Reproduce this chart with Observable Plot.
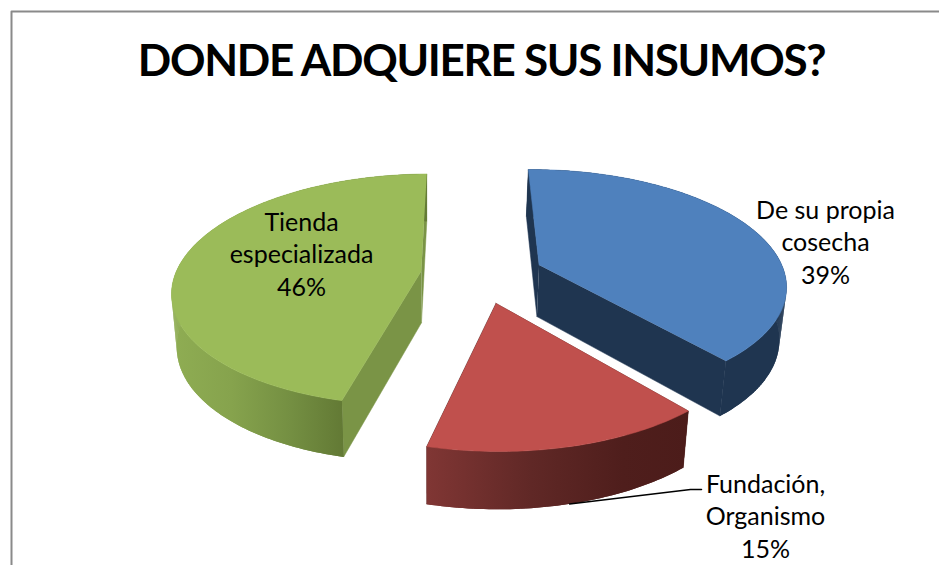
<!DOCTYPE html>
<html><head><meta charset="utf-8">
<script src="https://cdn.jsdelivr.net/npm/d3@7"></script>
<script src="https://cdn.jsdelivr.net/npm/@observablehq/plot@0.6"></script>
<style>html,body{margin:0;padding:0;background:#fff}svg{display:block}.ttl text{letter-spacing:-1.3px}</style>
</head><body><div id="chart"></div>
<script>
const categories = ["De su propia cosecha", "Fundación, Organismo", "Tienda especializada"];
const shares = [39, 15, 46];
const chartTitle = "DONDE ADQUIERE SUS INSUMOS?";

const topColors = ["#4f81bd", "#c0504d", "#9bbb59"];
const wallColors = ["#1f3550", "#4f1e1c", "#7a9446"];
const rimStops = [
  [[0, "#1f3550"], [1, "#1f3550"]],
  [[0, "#803634"], [0.4, "#602826"], [0.75, "#4f1e1c"], [1, "#4c1c1a"]],
  [[0, "#8fad53"], [0.35, "#86a34d"], [0.7, "#748f42"], [1, "#637a35"]]
];

const labelLines = [["De su propia", "cosecha", "39%"], ["Fundación,", "Organismo", "15%"], ["Tienda", "especializada", "46%"]];
const labelAnchor = [[825, 210], [765, 484], [301, 222]];
const lineGap = 32.5;

const view = {cx: 481.5, cy: 274, R: 246, Rt: 113.7, d: 0.1614, e: 0.25, depth: 52, bottomScale: 0.98, bottomCx: 430, spin: -0.8 * Math.PI / 180};
function project(X, V, low) {
  const p = 1 / (1 - view.d * V);
  let x = view.cx + view.R * X * p, y = view.cy + view.Rt * V * p;
  if (low) { x = view.bottomCx + (x - view.bottomCx) * view.bottomScale; y += view.depth * (1 + 0.09 * V); }
  return {x, y};
}
const pie = d3.pie().sort(null).value(d => d)(shares);
const rad = a => [Math.sin(a), -Math.cos(a)];
const walls = [], tops = [], rims = [], gradients = [];
let pid = 0;
const tag = (points, color, list) => { const id = pid++; points.forEach(p => list.push({...p, id, color})); };

pie.forEach((s, i) => {
  const mid = (s.startAngle + s.endAngle) / 2, [mx, mv] = rad(mid);
  const off = [mx * view.e, mv * view.e];
  const pt = (a, low, r = 1) => { const [u, v] = rad(a + view.spin); return project(off[0] + u * r, off[1] + v * r, low); };
  const n = Math.max(2, Math.round((s.endAngle - s.startAngle) * 180 / Math.PI));
  const angles = d3.range(n + 1).map(k => s.startAngle + (s.endAngle - s.startAngle) * k / n);
  const apex = pt(0, false, 0), apexLow = pt(0, true, 0);
  tag([apex, pt(s.startAngle, false), pt(s.startAngle, true), apexLow], wallColors[i], walls);
  tag([apex, pt(s.endAngle, false), pt(s.endAngle, true), apexLow], wallColors[i], walls);
  const frontAngles = angles.filter(a => -Math.cos(a) > 0);
  const [x0, x1] = d3.extent(frontAngles, a => pt(a, false).x);
  gradients.push({id: `rim${i}`, x0, x1, stops: rimStops[i]});
  const sweep = [];
  d3.pairs(angles).forEach(([a, b], k) => {
    [pt(a, false), pt(b, false), pt(b, true), pt(a, true)].forEach(q => sweep.push({...q, k}));
  });
  rims.push({
    fill: `url(#rim${i})`,
    outline: [...angles.map(a => pt(a, false)), ...angles.slice().reverse().map(a => pt(a, true))],
    sweep
  });
  tag([apex, ...angles.map(a => pt(a, false))], topColors[i], tops);
});

const labels = labelLines.flatMap((lines, i) => lines.map((t, k) => ({t, x: labelAnchor[i][0], y: labelAnchor[i][1] + k * lineGap})));
const leaderStart = (() => {
  const s = pie[1], m = (s.startAngle + s.endAngle) / 2, [mx, mv] = rad(m);
  const [u, v] = rad(s.startAngle + (s.endAngle - s.startAngle) * 0.49 + view.spin);
  return project(mx * view.e + u, mv * view.e + v, true);
})();
const leader = [leaderStart, {x: 690, y: 489}, {x: 701, y: 489}];

const defs = () => {
  const d = d3.create("svg:defs");
  gradients.forEach(g => {
    const lg = d.append("linearGradient").attr("id", g.id).attr("gradientUnits", "userSpaceOnUse")
      .attr("x1", g.x0).attr("x2", g.x1).attr("y1", 0).attr("y2", 0);
    g.stops.forEach(([o, c]) => lg.append("stop").attr("offset", o).attr("stop-color", c));
  });
  return d.node();
};

const chart = Plot.plot({
  width: 939, height: 565, margin: 0,
  style: {background: "#fff"},
  x: {domain: [0, 939], range: [0, 939], axis: null},
  y: {domain: [0, 565], range: [0, 565], axis: null},
  color: {type: "identity"},
  marks: [
    defs,
    Plot.line([{x: 939, y: 11}, {x: 11, y: 11}, {x: 11, y: 565}], {x: "x", y: "y", stroke: "#8a8a8a", strokeWidth: 2}),
    Plot.line(walls, {x: "x", y: "y", z: "id", fill: "color", stroke: "color", strokeWidth: 0.5, curve: "linear"}),
    ...rims.flatMap(r => [
      Plot.line(r.sweep, {x: "x", y: "y", z: "k", fill: r.fill, stroke: "none", curve: "linear"}),
      Plot.line(r.outline, {x: "x", y: "y", fill: r.fill, stroke: "none", curve: "linear"})
    ]),
    Plot.line(tops, {x: "x", y: "y", z: "id", fill: "color", stroke: "color", strokeWidth: 0.5, curve: "linear"}),
    Plot.line(leader, {x: "x", y: "y", stroke: "#000", strokeWidth: 1.5}),
    Plot.text(labels, {x: "x", y: "y", text: "t", fontFamily: "Lato", fontSize: 25, fill: "#000", textAnchor: "middle"}),
    Plot.text([chartTitle], {x: () => 481, y: () => 61, className: "ttl", fontFamily: "Lato", fontWeight: 700, fontSize: 44, fill: "#000", textAnchor: "middle"})
  ]
});
document.getElementById("chart").appendChild(chart);
</script></body></html>
